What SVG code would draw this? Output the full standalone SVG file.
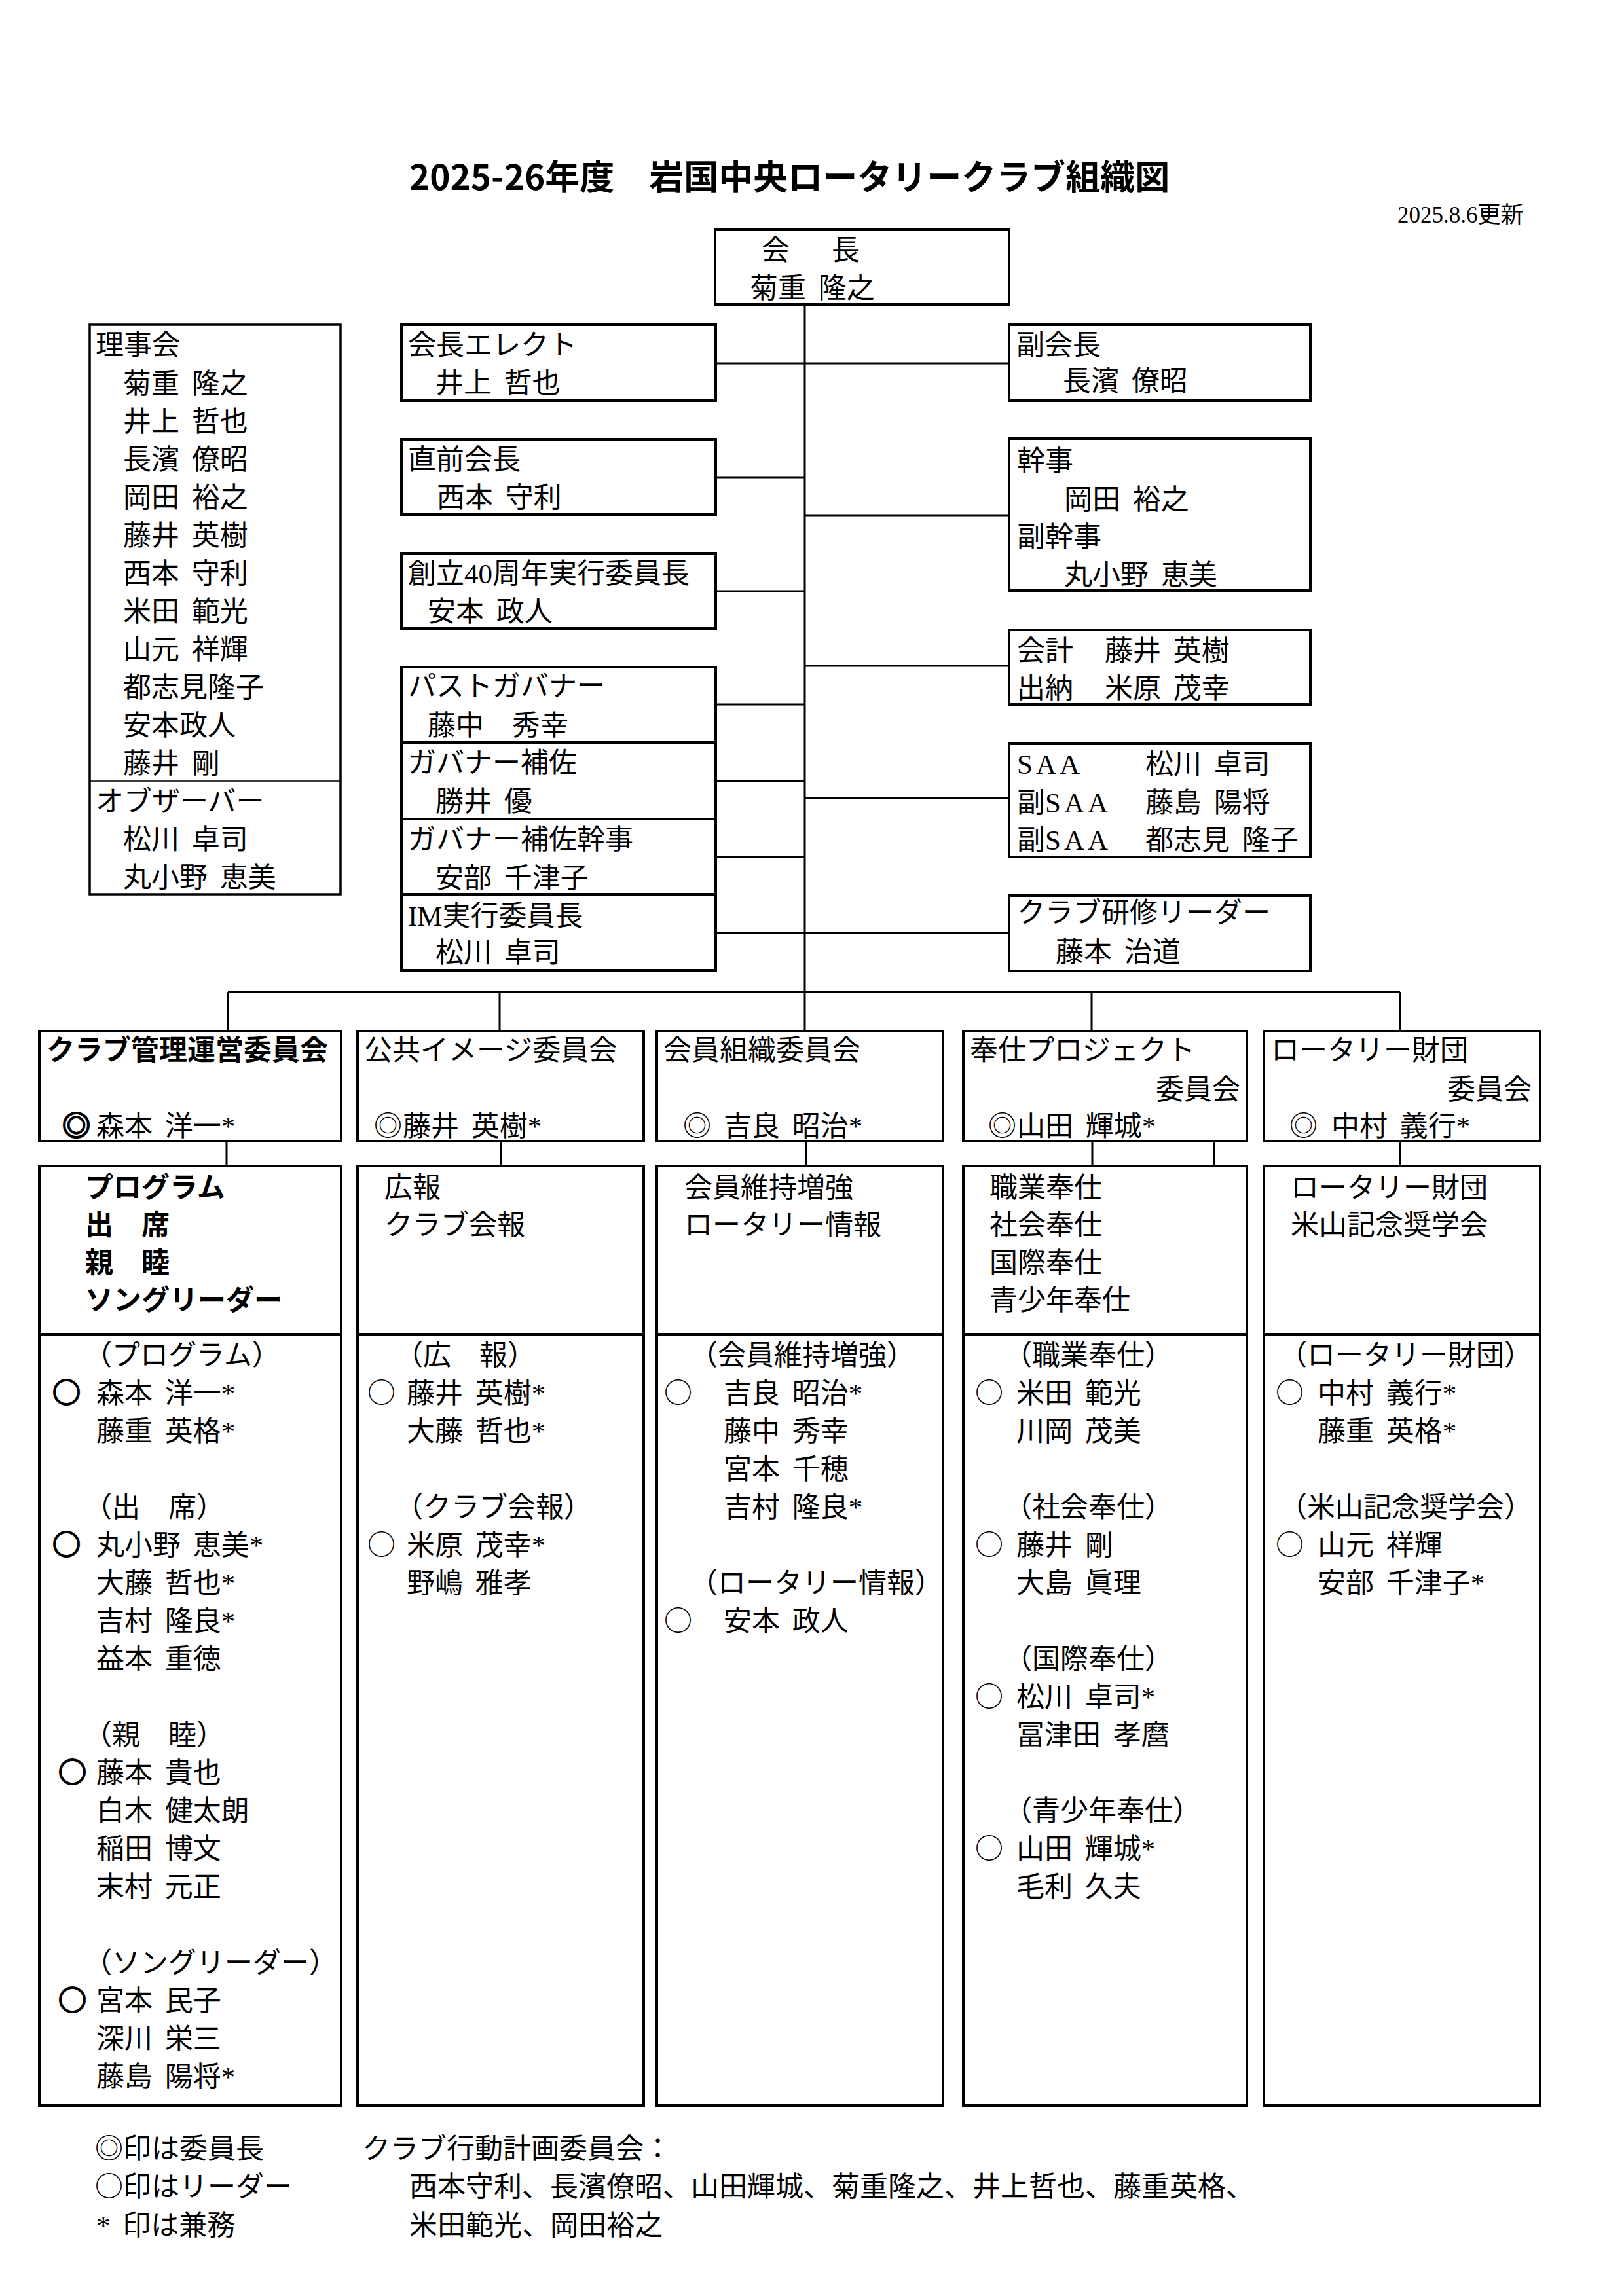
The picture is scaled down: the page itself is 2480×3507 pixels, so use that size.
<svg xmlns="http://www.w3.org/2000/svg" width="2480" height="3507" viewBox="0 0 2480 3507">
<style>
.bx{fill:#fff;stroke:#000;stroke-width:4}
.thin{stroke:#000;stroke-width:1.5;fill:none}
.cn{stroke:#000;stroke-width:3;fill:none}
.t{font-family:"Liberation Serif","Noto Sans CJK JP",serif;font-size:43px;fill:#000;word-spacing:8px}
.b{font-family:"Noto Sans CJK JP",sans-serif;font-size:43px;font-weight:700;fill:#000}
.mk{font-family:"Noto Sans CJK JP",sans-serif}
.bd{font-weight:700;stroke:#000;stroke-width:2.2}
.title{font-family:"Noto Sans CJK JP",sans-serif;font-size:53px;font-weight:700;fill:#000}
.date{font-family:"Liberation Serif","Noto Sans CJK JP",serif;font-size:35px;fill:#000}
.ls{letter-spacing:5px}
</style>
<rect width="2480" height="3507" fill="#fff"/>
<text class="title" x="625" y="290">2025-26年度　岩国中央ロータリークラブ組織図</text>
<text class="date" x="2134" y="340">2025.8.6更新</text>

<g id="connectors">
<path class="cn" d="M1229 465V1575"/>
<path class="cn" d="M1093 555H1541"/>
<path class="cn" d="M1093 729H1229"/>
<path class="cn" d="M1229 787H1541"/>
<path class="cn" d="M1093 903H1229"/>
<path class="cn" d="M1229 1017H1541"/>
<path class="cn" d="M1093 1076H1229"/>
<path class="cn" d="M1093 1193H1229"/>
<path class="cn" d="M1229 1219H1541"/>
<path class="cn" d="M1093 1309H1229"/>
<path class="cn" d="M1093 1425H1541"/>
<path class="cn" d="M348 1515H2138"/>
<path class="cn" d="M348 1515V1575M763 1515V1575M1667 1515V1575M2138 1515V1575"/>
<path class="cn" d="M346 1743V1781M765 1743V1781M1231 1743V1781M1668 1743V1781M1854 1743V1781M2138 1743V1781"/>
</g>

<g id="president">
<rect class="bx" x="1092" y="351" width="449" height="114"/>
<text class="t" y="397"><tspan x="1163">会　</tspan><tspan x="1270">長</tspan></text>
<text class="t" x="1145" y="455">菊重 隆之</text>
</g>

<g id="board">
<rect class="bx" x="137" y="496" width="383" height="870" style="stroke-width:3.5"/>
<path class="thin" d="M137 1193H520"/>
<text class="t" x="146" y="542">理事会</text>
<text class="t" x="188" y="601">菊重 隆之</text>
<text class="t" x="188" y="659">井上 哲也</text>
<text class="t" x="188" y="717">長濱 僚昭</text>
<text class="t" x="188" y="775">岡田 裕之</text>
<text class="t" x="188" y="833">藤井 英樹</text>
<text class="t" x="188" y="891">西本 守利</text>
<text class="t" x="188" y="949">米田 範光</text>
<text class="t" x="188" y="1007">山元 祥輝</text>
<text class="t" x="188" y="1065">都志見隆子</text>
<text class="t" x="188" y="1123">安本政人</text>
<text class="t" x="188" y="1181">藤井 剛</text>
<text class="t" x="146" y="1239">オブザーバー</text>
<text class="t" x="188" y="1297">松川 卓司</text>
<text class="t" x="188" y="1355">丸小野 恵美</text>
</g>

<g id="president-elect">
<rect class="bx" x="613" y="496" width="480" height="116"/>
<text class="t" x="623" y="542">会長エレクト</text>
<text class="t" x="665" y="600">井上 哲也</text>
</g>
<g id="past-president">
<rect class="bx" x="613" y="671" width="480" height="115"/>
<text class="t" x="623" y="717">直前会長</text>
<text class="t" x="667" y="775">西本 守利</text>
</g>
<g id="anniversary">
<rect class="bx" x="613" y="845" width="480" height="115"/>
<text class="t" x="623" y="891">創立40周年実行委員長</text>
<text class="t" x="653" y="949">安本 政人</text>
</g>
<g id="past-governor">
<rect class="bx" x="613" y="1019" width="480" height="115"/>
<text class="t" x="623" y="1063">パストガバナー</text>
<text class="t" x="653" y="1123">藤中　秀幸</text>
</g>
<g id="governor-assistant">
<rect class="bx" x="613" y="1134" width="480" height="117"/>
<text class="t" x="623" y="1180">ガバナー補佐</text>
<text class="t" x="665" y="1239">勝井 優</text>
</g>
<g id="governor-assistant-secretary">
<rect class="bx" x="613" y="1251" width="480" height="115"/>
<text class="t" x="623" y="1297">ガバナー補佐幹事</text>
<text class="t" x="665" y="1356">安部 千津子</text>
</g>
<g id="im-committee">
<rect class="bx" x="613" y="1366" width="480" height="116"/>
<text class="t" x="623" y="1414">IM実行委員長</text>
<text class="t" x="665" y="1470">松川 卓司</text>
</g>

<g id="vice-president">
<rect class="bx" x="1541" y="496" width="460" height="116"/>
<text class="t" x="1552" y="542">副会長</text>
<text class="t" x="1623" y="597">長濱 僚昭</text>
</g>
<g id="secretary">
<rect class="bx" x="1541" y="670" width="460" height="232"/>
<text class="t" x="1553" y="719">幹事</text>
<text class="t" x="1625" y="778">岡田 裕之</text>
<text class="t" x="1553" y="835">副幹事</text>
<text class="t" x="1625" y="893">丸小野 恵美</text>
</g>
<g id="treasurer">
<rect class="bx" x="1541" y="962" width="460" height="114"/>
<text class="t" y="1009"><tspan x="1553">会計　</tspan><tspan x="1687">藤井 英樹</tspan></text>
<text class="t" y="1066"><tspan x="1553">出納　</tspan><tspan x="1687">米原 茂幸</tspan></text>
</g>
<g id="saa">
<rect class="bx" x="1541" y="1136" width="460" height="173"/>
<text class="t" y="1182"><tspan x="1553" class="ls">SAA</tspan> <tspan x="1749">松川 卓司</tspan></text>
<text class="t" y="1241"><tspan x="1553">副</tspan><tspan class="ls">SAA</tspan> <tspan x="1749">藤島 陽将</tspan></text>
<text class="t" y="1298"><tspan x="1553">副</tspan><tspan class="ls">SAA</tspan> <tspan x="1749">都志見 隆子</tspan></text>
</g>
<g id="training-leader">
<rect class="bx" x="1541" y="1368" width="460" height="115"/>
<text class="t" x="1553" y="1409">クラブ研修リーダー</text>
<text class="t" x="1612" y="1469">藤本 治道</text>
</g>

<g id="club-admin">
<rect class="bx" x="60" y="1575" width="461" height="168"/>
<text class="b" x="71" y="1619">クラブ管理運営委員会</text>
<text class="t" y="1735"><tspan x="95" class="mk bd">◎</tspan><tspan x="147">森本 洋一*</tspan></text>
</g>
<g id="public-image">
<rect class="bx" x="546" y="1575" width="437" height="168"/>
<text class="t" x="556" y="1619">公共イメージ委員会</text>
<text class="t" y="1735"><tspan x="571" class="mk">◎</tspan><tspan x="615">藤井 英樹*</tspan></text>
</g>
<g id="membership">
<rect class="bx" x="1003" y="1575" width="437" height="168"/>
<text class="t" x="1013" y="1619">会員組織委員会</text>
<text class="t" y="1735"><tspan x="1043" class="mk">◎</tspan> <tspan x="1105">吉良 昭治*</tspan></text>
</g>
<g id="service-projects">
<rect class="bx" x="1471" y="1575" width="433" height="168"/>
<text class="t" x="1481" y="1619">奉仕プロジェクト</text>
<text class="t" x="1894" y="1679" text-anchor="end">委員会</text>
<text class="t" y="1735"><tspan x="1509" class="mk">◎</tspan><tspan x="1553">山田 輝城*</tspan></text>
</g>
<g id="foundation">
<rect class="bx" x="1930" y="1575" width="422" height="168"/>
<text class="t" x="1941" y="1619">ロータリー財団</text>
<text class="t" x="2339" y="1679" text-anchor="end">委員会</text>
<text class="t" y="1735"><tspan x="1969" class="mk">◎</tspan> <tspan x="2033">中村 義行*</tspan></text>
</g>

<g id="club-admin-members">
<rect class="bx" x="60" y="1781" width="461" height="1435"/>
<path class="bx" d="M60 2038H521"/>
<text class="b" x="130" y="1829">プログラム</text>
<text class="b" x="130" y="1886">出　席</text>
<text class="b" x="130" y="1944">親　睦</text>
<text class="b" x="130" y="2001">ソングリーダー</text>
<text class="t" x="128" y="2085">（プログラム）</text>
<text class="t" y="2143"><tspan x="80" class="mk bd">○</tspan> <tspan x="147">森本 洋一*</tspan></text>
<text class="t" x="147" y="2201">藤重 英格*</text>
<text class="t" x="128" y="2317">（出　席）</text>
<text class="t" y="2375"><tspan x="80" class="mk bd">○</tspan> <tspan x="147">丸小野 恵美*</tspan></text>
<text class="t" x="147" y="2433">大藤 哲也*</text>
<text class="t" x="147" y="2491">吉村 隆良*</text>
<text class="t" x="147" y="2549">益本 重徳</text>
<text class="t" x="128" y="2665">（親　睦）</text>
<text class="t" y="2723"><tspan x="89" class="mk bd">○</tspan><tspan x="147">藤本 貴也</tspan></text>
<text class="t" x="147" y="2781">白木 健太朗</text>
<text class="t" x="147" y="2839">稲田 博文</text>
<text class="t" x="147" y="2897">末村 元正</text>
<text class="t" x="128" y="3013">（ソングリーダー）</text>
<text class="t" y="3071"><tspan x="89" class="mk bd">○</tspan><tspan x="147">宮本 民子</tspan></text>
<text class="t" x="147" y="3129">深川 栄三</text>
<text class="t" x="147" y="3187">藤島 陽将*</text>
</g>

<g id="public-image-members">
<rect class="bx" x="546" y="1781" width="437" height="1435"/>
<path class="bx" d="M546 2038H983"/>
<text class="t" x="587" y="1829">広報</text>
<text class="t" x="587" y="1886">クラブ会報</text>
<text class="t" x="603" y="2085">（広　報）</text>
<text class="t" y="2143"><tspan x="561" class="mk">○</tspan> <tspan x="621">藤井 英樹*</tspan></text>
<text class="t" x="621" y="2201">大藤 哲也*</text>
<text class="t" x="603" y="2317">（クラブ会報）</text>
<text class="t" y="2375"><tspan x="561" class="mk">○</tspan> <tspan x="621">米原 茂幸*</tspan></text>
<text class="t" x="621" y="2433">野嶋 雅孝</text>
</g>

<g id="membership-members">
<rect class="bx" x="1003" y="1781" width="437" height="1435"/>
<path class="bx" d="M1003 2038H1440"/>
<text class="t" x="1045" y="1829">会員維持増強</text>
<text class="t" x="1045" y="1886">ロータリー情報</text>
<text class="t" x="1053" y="2085">（会員維持増強）</text>
<text class="t" y="2143"><tspan x="1014" class="mk">○</tspan> <tspan x="1105">吉良 昭治*</tspan></text>
<text class="t" x="1105" y="2201">藤中 秀幸</text>
<text class="t" x="1105" y="2259">宮本 千穂</text>
<text class="t" x="1105" y="2317">吉村 隆良*</text>
<text class="t" x="1053" y="2433">（ロータリー情報）</text>
<text class="t" y="2491"><tspan x="1014" class="mk">○</tspan> <tspan x="1105">安本 政人</tspan></text>
</g>

<g id="service-projects-members">
<rect class="bx" x="1471" y="1781" width="433" height="1435"/>
<path class="bx" d="M1471 2038H1904"/>
<text class="t" x="1511" y="1829">職業奉仕</text>
<text class="t" x="1511" y="1886">社会奉仕</text>
<text class="t" x="1511" y="1944">国際奉仕</text>
<text class="t" x="1511" y="2001">青少年奉仕</text>
<text class="t" x="1533" y="2085">（職業奉仕）</text>
<text class="t" y="2143"><tspan x="1489" class="mk">○</tspan> <tspan x="1552">米田 範光</tspan></text>
<text class="t" x="1552" y="2201">川岡 茂美</text>
<text class="t" x="1533" y="2317">（社会奉仕）</text>
<text class="t" y="2375"><tspan x="1489" class="mk">○</tspan> <tspan x="1552">藤井 剛</tspan></text>
<text class="t" x="1552" y="2433">大島 眞理</text>
<text class="t" x="1533" y="2549">（国際奉仕）</text>
<text class="t" y="2607"><tspan x="1489" class="mk">○</tspan> <tspan x="1552">松川 卓司*</tspan></text>
<text class="t" x="1552" y="2665">冨津田 孝麿</text>
<text class="t" x="1533" y="2781">（青少年奉仕）</text>
<text class="t" y="2839"><tspan x="1489" class="mk">○</tspan> <tspan x="1552">山田 輝城*</tspan></text>
<text class="t" x="1552" y="2897">毛利 久夫</text>
</g>

<g id="foundation-members">
<rect class="bx" x="1930" y="1781" width="422" height="1435"/>
<path class="bx" d="M1930 2038H2352"/>
<text class="t" x="1971" y="1829">ロータリー財団</text>
<text class="t" x="1971" y="1886">米山記念奨学会</text>
<text class="t" x="1953" y="2085">（ロータリー財団）</text>
<text class="t" y="2143"><tspan x="1948" class="mk">○</tspan> <tspan x="2012">中村 義行*</tspan></text>
<text class="t" x="2012" y="2201">藤重 英格*</text>
<text class="t" x="1953" y="2317">（米山記念奨学会）</text>
<text class="t" y="2375"><tspan x="1948" class="mk">○</tspan> <tspan x="2012">山元 祥輝</tspan></text>
<text class="t" x="2012" y="2433">安部 千津子*</text>
</g>

<g id="notes">
<text class="t" x="145" y="3297"><tspan class="mk">◎</tspan>印は委員長</text>
<text class="t" x="145" y="3355"><tspan class="mk">○</tspan>印はリーダー</text>
<text class="t" x="147" y="3414">* 印は兼務</text>
<text class="t" x="553" y="3297">クラブ行動計画委員会：</text>
<text class="t" x="625" y="3355">西本守利、長濱僚昭、山田輝城、菊重隆之、井上哲也、藤重英格、</text>
<text class="t" x="625" y="3414">米田範光、岡田裕之</text>
</g>
</svg>
